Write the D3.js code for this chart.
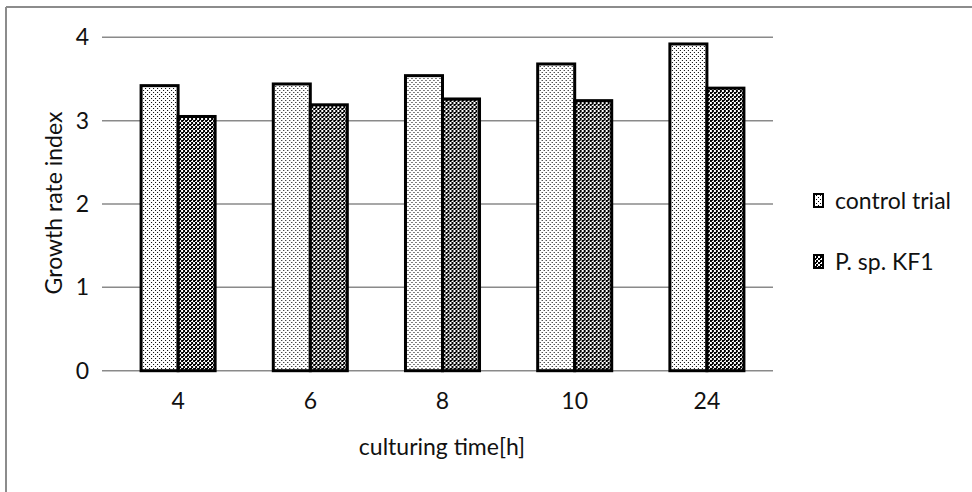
<!DOCTYPE html>
<html>
<head>
<meta charset="utf-8">
<script src="https://cdn.jsdelivr.net/npm/d3@7"></script>
<style>
  html, body { margin: 0; padding: 0; background: #fff; }
  svg { display: block; font-family: Lato, "Open Sans", sans-serif; }
</style>
</head>
<body>
<svg id="chart" width="972" height="492"></svg>
<script>
// Culturing times (hours) and growth rate index per series
const categories = ["4", "6", "8", "10", "24"];
const seriesNames = ["control trial", "P. sp. KF1"];
const controlValues = [3.42, 3.44, 3.54, 3.68, 3.92];
const kf1Values = [3.05, 3.19, 3.26, 3.24, 3.39];
const yTicks = [0, 1, 2, 3, 4];

const seriesValues = [controlValues, kf1Values];
const rows = categories.map((c, i) => ({
  cat: c,
  vals: seriesNames.map((s, j) => ({ key: s, idx: j, value: seriesValues[j][i] }))
}));

const FONT = 23;
const svg = d3.select("#chart");
const defs = svg.append("defs");

// Sparse dot fill for the control series
const pDots = defs.append("pattern")
  .attr("id", "dots").attr("patternUnits", "userSpaceOnUse")
  .attr("width", 4).attr("height", 4);
pDots.append("rect").attr("width", 4).attr("height", 4).attr("fill", "#fff");
pDots.append("rect").attr("x", 0).attr("y", 0).attr("width", 1).attr("height", 1).attr("fill", "#000");
pDots.append("rect").attr("x", 2).attr("y", 2).attr("width", 1).attr("height", 1).attr("fill", "#000");

// Checkerboard fill for the KF1 series
const pCheck = defs.append("pattern")
  .attr("id", "check").attr("patternUnits", "userSpaceOnUse")
  .attr("width", 4).attr("height", 4);
pCheck.append("rect").attr("width", 4).attr("height", 4).attr("fill", "#fff");
pCheck.append("rect").attr("x", 0).attr("y", 0).attr("width", 2).attr("height", 2).attr("fill", "#000");
pCheck.append("rect").attr("x", 2).attr("y", 2).attr("width", 2).attr("height", 2).attr("fill", "#000");
pCheck.append("rect").attr("x", 2).attr("y", 0).attr("width", 1).attr("height", 1).attr("fill", "#000");

const fills = ["url(#dots)", "url(#check)"];

// Chart frame (top and left edges)
svg.append("line").attr("x1", 6).attr("x2", 972).attr("y1", 7).attr("y2", 7)
  .attr("stroke", "#8c8c8c").attr("stroke-width", 2);
svg.append("line").attr("x1", 6).attr("x2", 6).attr("y1", 7).attr("y2", 492)
  .attr("stroke", "#8c8c8c").attr("stroke-width", 2);

const plot = { left: 112, right: 773, top: 37.3, bottom: 370.7, gridLeft: 102 };

const x = d3.scaleBand().domain(categories).range([plot.left, plot.right]).paddingInner(0.44).paddingOuter(0.22);
const xInner = d3.scaleBand().domain(seriesNames).range([0, x.bandwidth()]);
const y = d3.scaleLinear().domain([0, 4]).range([plot.bottom, plot.top]);

// Horizontal gridlines
svg.append("g").selectAll("line").data(yTicks).join("line")
  .attr("x1", plot.gridLeft).attr("x2", plot.right)
  .attr("y1", d => y(d)).attr("y2", d => y(d))
  .attr("stroke", "#8a8a8a").attr("stroke-width", 1.5);

// Y axis tick labels
const yAxis = d3.axisLeft(y).tickValues(yTicks).tickSize(0).tickPadding(0).tickFormat(d3.format("d"));
const gy = svg.append("g").attr("transform", `translate(${plot.left - 23},0)`).call(yAxis);
gy.select(".domain").remove();
gy.selectAll("text").attr("font-size", FONT).attr("fill", "#111").attr("font-family", "Lato, sans-serif");

// Bars
const groups = svg.append("g").selectAll("g").data(rows).join("g")
  .attr("transform", d => `translate(${x(d.cat)},0)`);
groups.selectAll("rect").data(d => d.vals).join("rect")
  .attr("x", d => xInner(d.key))
  .attr("y", d => y(d.value))
  .attr("width", xInner.bandwidth())
  .attr("height", d => y(0) - y(d.value))
  .attr("fill", d => fills[d.idx])
  .attr("stroke", "#000").attr("stroke-width", 3);

// X axis tick labels
const xAxis = d3.axisBottom(x).tickSize(0).tickPadding(0);
const gx = svg.append("g").attr("transform", `translate(0,${plot.bottom + 22})`).call(xAxis);
gx.select(".domain").remove();
gx.selectAll("text").attr("font-size", FONT).attr("fill", "#111").attr("font-family", "Lato, sans-serif");

// Axis titles
svg.append("text").attr("x", 442).attr("y", 455).attr("text-anchor", "middle")
  .attr("font-size", FONT).attr("fill", "#111").text("culturing time[h]");
svg.append("text").attr("transform", "translate(62,203) rotate(-90)").attr("text-anchor", "middle")
  .attr("font-size", FONT).attr("fill", "#111").text("Growth rate index");

// Legend
const legendY = [201, 262];
const lg = svg.append("g").selectAll("g").data(seriesNames).join("g")
  .attr("transform", (d, i) => `translate(814,${legendY[i]})`);
lg.append("rect").attr("x", 0).attr("y", -7).attr("width", 9).attr("height", 13)
  .attr("fill", (d, i) => fills[i]).attr("stroke", "#000").attr("stroke-width", 2);
lg.append("text").attr("x", 21).attr("y", 8).attr("font-size", FONT).attr("fill", "#111")
  .text(d => d);
</script>
</body>
</html>
